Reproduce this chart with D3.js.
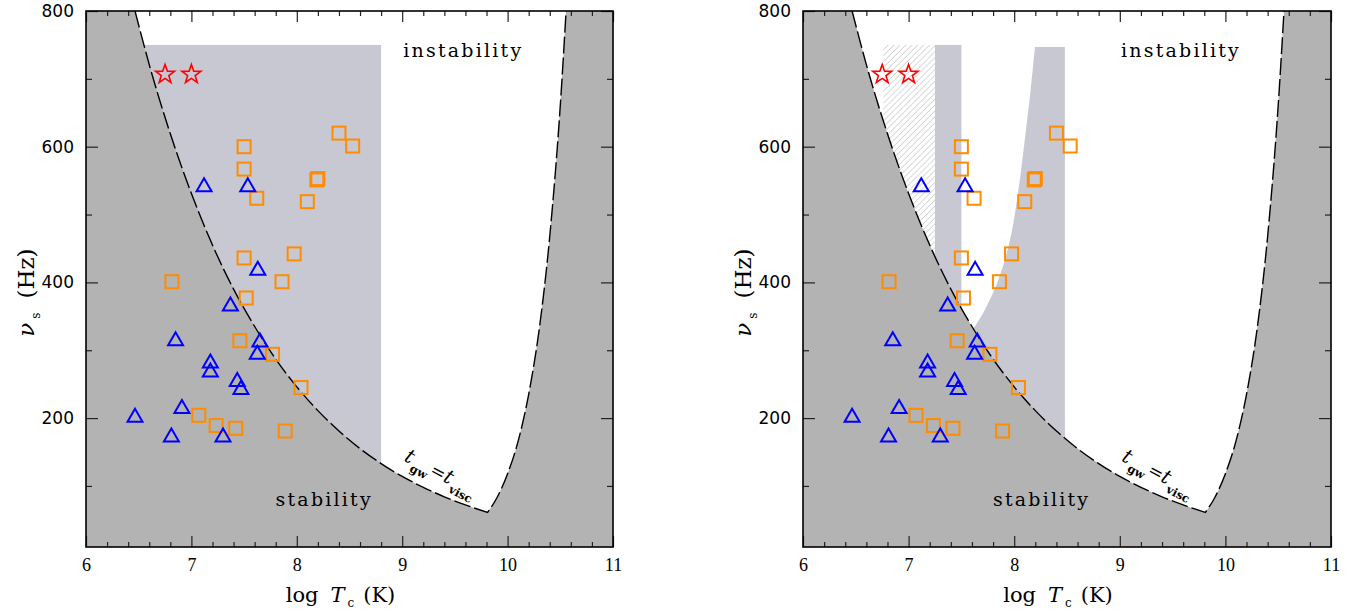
<!DOCTYPE html>
<html>
<head>
<meta charset="utf-8">
<script src="https://cdn.jsdelivr.net/npm/d3@7"></script>
<style>
  body { margin: 0; background: #fff; }
  svg { display: block; }
</style>
</head>
<body>
<svg id="chart" width="1351" height="613"></svg>
<script>
// ---- axis ticks ----
const logTTicks = [6, 7, 8, 9, 10, 11];
const nuTicks = [200, 400, 600, 800];
const logTMinorTicks = [6.2, 6.4, 6.6, 6.8, 7.2, 7.4, 7.6, 7.8, 8.2, 8.4, 8.6, 8.8,
                        9.2, 9.4, 9.6, 9.8, 10.2, 10.4, 10.6, 10.8];
const nuMinorTicks = [100, 300, 500, 700];

// ---- t_gw = t_visc boundary: [log Tc, nu_s (Hz)] ----
// shear-viscosity side (cool)
const coolBranch = [
  [6.465, 800], [6.6, 721], [6.8, 619], [7.0, 531], [7.2, 455], [7.4, 390],
  [7.6, 335], [7.8, 287], [8.0, 246], [8.2, 211], [8.4, 181], [8.6, 155],
  [8.8, 133], [9.0, 114], [9.2, 98], [9.4, 84], [9.6, 72], [9.81, 61]
];
// bulk-viscosity side (hot)
const hotBranch = [
  [9.81, 61], [9.9, 83], [10.0, 118], [10.1, 166], [10.2, 235], [10.3, 331],
  [10.4, 468], [10.5, 661], [10.555, 800]
];

// ---- shaded instability windows ----
const leftWindow = { logTFrom: 6.0, logTTo: 8.8, nuTop: 750 };
const hatchWindow = { logTFrom: 6.76, logTTo: 7.25, nuTop: 750 };
const narrowWindow = { logTFrom: 7.25, logTTo: 7.5, nuTop: 750 };
const wideWindowEdge = [
  [7.61, 331], [7.72, 359], [7.85, 404], [7.96, 462], [8.04, 536],
  [8.10, 610], [8.156, 684], [8.197, 747]
];
const wideWindow = { logTTo: 8.48, nuTop: 747 };

// ---- sources: [log Tc, nu_s] ----
const stars = [[6.75, 708], [7.0, 708]];
const triangles = [
  [6.465, 204], [6.81, 175], [6.91, 217], [6.85, 317], [7.12, 544], [7.18, 284],
  [7.18, 271], [7.30, 175], [7.37, 368], [7.435, 257], [7.47, 245], [7.535, 544],
  [7.63, 421], [7.65, 315], [7.625, 297]
];
const squares = [
  [6.815, 401], [7.07, 204], [7.235, 189], [7.42, 185], [7.46, 314], [7.50, 600],
  [7.50, 567], [7.50, 436], [7.52, 377], [7.62, 524], [7.77, 294], [7.89, 181],
  [7.86, 401], [7.975, 442], [8.04, 245], [8.10, 519], [8.19, 551], [8.20, 553],
  [8.40, 620], [8.53, 601]
];

const GRAY = "#b3b3b3";
const LAVENDER = "#c8c8d2";
const SERIF = "'DejaVu Serif', serif";

const svg = d3.select("#chart");
const defs = svg.append("defs");
defs.append("pattern")
  .attr("id", "hatch")
  .attr("patternUnits", "userSpaceOnUse")
  .attr("width", 4.2).attr("height", 4.2)
  .attr("patternTransform", "rotate(45)")
  .append("line")
  .attr("x1", 0).attr("y1", 0).attr("x2", 0).attr("y2", 4.2)
  .attr("stroke", "#bcbcbc").attr("stroke-width", 1.1);

const panels = [
  { id: "a", left: 86, right: 613 },
  { id: "b", left: 803, right: 1331 }
];
const TOP = 11, BOTTOM = 547;

panels.forEach(p => {
  const x = d3.scaleLinear().domain([6, 11]).range([p.left, p.right]);
  const y = d3.scaleLinear().domain([10, 800]).range([BOTTOM, TOP]);
  const g = svg.append("g");

  defs.append("clipPath").attr("id", "clip-" + p.id)
    .append("rect")
    .attr("x", p.left).attr("y", TOP)
    .attr("width", p.right - p.left).attr("height", BOTTOM - TOP);

  const plot = g.append("g").attr("clip-path", `url(#clip-${p.id})`);

  // instability windows
  if (p.id === "a") {
    plot.append("rect")
      .attr("x", x(leftWindow.logTFrom)).attr("y", y(leftWindow.nuTop))
      .attr("width", x(leftWindow.logTTo) - x(leftWindow.logTFrom))
      .attr("height", y(10) - y(leftWindow.nuTop))
      .attr("fill", LAVENDER);
  } else {
    plot.append("rect")
      .attr("x", x(hatchWindow.logTFrom)).attr("y", y(hatchWindow.nuTop))
      .attr("width", x(hatchWindow.logTTo) - x(hatchWindow.logTFrom))
      .attr("height", y(10) - y(hatchWindow.nuTop))
      .attr("fill", "url(#hatch)");
    plot.append("rect")
      .attr("x", x(narrowWindow.logTFrom)).attr("y", y(narrowWindow.nuTop))
      .attr("width", x(narrowWindow.logTTo) - x(narrowWindow.logTFrom))
      .attr("height", y(10) - y(narrowWindow.nuTop))
      .attr("fill", LAVENDER);
    const edge = d3.line().x(d => x(d[0])).y(d => y(d[1])).curve(d3.curveCatmullRom)(wideWindowEdge);
    const first = wideWindowEdge[0];
    const dWide = edge +
      `L${x(wideWindow.logTTo)},${y(wideWindow.nuTop)}` +
      `L${x(wideWindow.logTTo)},${y(10)}` +
      `L${x(first[0])},${y(10)}Z`;
    plot.append("path").attr("d", dWide).attr("fill", LAVENDER);
  }

  // stable region below / right of the boundary
  const line = d3.line().x(d => x(d[0])).y(d => y(d[1])).curve(d3.curveMonotoneX);
  const pCool = line(coolBranch);
  const pHot = line(hotBranch);
  const dStable = `M${x(6)},${y(10)}L${x(6)},${y(800)}` +
    pCool.replace(/^M/, "L") + pHot.replace(/^M/, "L") +
    `L${x(11)},${y(800)}L${x(11)},${y(10)}Z`;
  plot.append("path").attr("d", dStable).attr("fill", GRAY);

  plot.append("path")
    .attr("d", pCool + pHot.replace(/^M/, "L"))
    .attr("fill", "none")
    .attr("stroke", "#000")
    .attr("stroke-width", 1.4)
    .attr("stroke-dasharray", "17,4");

  // markers
  const tri = "M0,-6.5L7.5,6.5L-7.5,6.5Z";
  const starPath = (() => {
    const pts = [];
    for (let i = 0; i < 10; i++) {
      const r = i % 2 === 0 ? 10 : 4;
      const a = -Math.PI / 2 + i * Math.PI / 5;
      pts.push([r * Math.cos(a), r * Math.sin(a)]);
    }
    return "M" + pts.map(q => q.join(",")).join("L") + "Z";
  })();

  plot.selectAll(".sq").data(squares).join("rect")
    .attr("x", d => x(d[0]) - 6.5).attr("y", d => y(d[1]) - 6.5)
    .attr("width", 13).attr("height", 13)
    .attr("fill", "none").attr("stroke", "#ff8c00").attr("stroke-width", 2);

  plot.selectAll(".tri").data(triangles).join("path")
    .attr("d", tri)
    .attr("transform", d => `translate(${x(d[0])},${y(d[1])})`)
    .attr("fill", "none").attr("stroke", "#0000ff").attr("stroke-width", 2)
    .attr("stroke-linejoin", "miter");

  plot.selectAll(".star").data(stars).join("path")
    .attr("d", starPath)
    .attr("transform", d => `translate(${x(d[0])},${y(d[1]) + 1})`)
    .attr("fill", "none").attr("stroke", "#ff0000").attr("stroke-width", 1.6);

  // region labels
  g.append("text")
    .attr("x", x(9.58)).attr("y", y(732))
    .attr("text-anchor", "middle")
    .attr("font-family", SERIF).attr("font-size", 19)
    .attr("letter-spacing", 2.2)
    .text("instability");
  g.append("text")
    .attr("x", x(8.26)).attr("y", y(70))
    .attr("text-anchor", "middle")
    .attr("font-family", SERIF).attr("font-size", 19)
    .attr("letter-spacing", 2.2)
    .text("stability");

  const lbl = g.append("text")
    .attr("transform", `translate(${x(9.01)},${y(138)}) rotate(28)`)
    .attr("font-family", SERIF).attr("font-size", 20);
  lbl.append("tspan").attr("font-style", "italic").text("t");
  lbl.append("tspan").attr("font-size", 11.5).attr("font-weight", "bold").attr("dx", 2).attr("dy", 7).text("gw");
  lbl.append("tspan").attr("font-size", 18).attr("dx", 1).attr("dy", -7).text("=");
  lbl.append("tspan").attr("font-style", "italic").text("t");
  lbl.append("tspan").attr("font-size", 11.5).attr("font-weight", "bold").attr("dx", 2).attr("dy", 7).text("visc");

  // axes: inward ticks on all four sides
  const styleAxis = sel => {
    sel.select(".domain").remove();
    sel.selectAll(".tick line").attr("stroke", "#222").attr("stroke-width", 1.2);
  };
  g.append("g").attr("transform", `translate(0,${BOTTOM})`)
    .call(d3.axisBottom(x).tickValues(logTTicks).tickSize(-11).tickPadding(11).tickFormat(d3.format("d")))
    .call(styleAxis)
    .call(s => s.selectAll("text").attr("font-family", "'Liberation Serif', serif").attr("font-size", 18).attr("fill", "#000"));
  g.append("g").attr("transform", `translate(0,${BOTTOM})`)
    .call(d3.axisBottom(x).tickValues(logTMinorTicks).tickSize(-5).tickFormat(""))
    .call(styleAxis);
  g.append("g").attr("transform", `translate(0,${TOP})`)
    .call(d3.axisTop(x).tickValues(logTTicks).tickSize(-11).tickFormat(""))
    .call(styleAxis);
  g.append("g").attr("transform", `translate(0,${TOP})`)
    .call(d3.axisTop(x).tickValues(logTMinorTicks).tickSize(-5).tickFormat(""))
    .call(styleAxis);

  g.append("g").attr("transform", `translate(${p.left},0)`)
    .call(d3.axisLeft(y).tickValues(nuTicks).tickSize(-12).tickPadding(12).tickFormat(d3.format("d")))
    .call(styleAxis)
    .call(s => s.selectAll("text").attr("font-family", "'DejaVu Sans', sans-serif").attr("font-size", 17).attr("fill", "#000"));
  g.append("g").attr("transform", `translate(${p.left},0)`)
    .call(d3.axisLeft(y).tickValues(nuMinorTicks).tickSize(-6).tickFormat(""))
    .call(styleAxis);
  g.append("g").attr("transform", `translate(${p.right},0)`)
    .call(d3.axisRight(y).tickValues(nuTicks).tickSize(-12).tickFormat(""))
    .call(styleAxis);
  g.append("g").attr("transform", `translate(${p.right},0)`)
    .call(d3.axisRight(y).tickValues(nuMinorTicks).tickSize(-6).tickFormat(""))
    .call(styleAxis);

  // frame
  g.append("rect")
    .attr("x", p.left).attr("y", TOP)
    .attr("width", p.right - p.left).attr("height", BOTTOM - TOP)
    .attr("fill", "none").attr("stroke", "#000").attr("stroke-width", 1.6);

  // axis titles
  const xt = g.append("text")
    .attr("x", (p.left + p.right) / 2 - 9).attr("y", 602)
    .attr("text-anchor", "middle")
    .attr("font-family", SERIF).attr("font-size", 21);
  xt.append("tspan").text("log");
  xt.append("tspan").attr("dx", 12).attr("font-style", "italic").text("T");
  xt.append("tspan").attr("font-size", 12).attr("dx", 3).attr("dy", 5).text("c");
  xt.append("tspan").attr("dx", 9).attr("dy", -5).text("(K)");

  const yt = g.append("text")
    .attr("transform", `translate(${p.left - 52},${y(385)}) rotate(-90)`)
    .attr("text-anchor", "middle")
    .attr("font-family", SERIF).attr("font-size", 23);
  yt.append("tspan").attr("font-style", "italic").text("ν");
  yt.append("tspan").attr("font-size", 12).attr("dx", 4).attr("dy", 6).text("s");
  yt.append("tspan").attr("dx", 14).attr("dy", -6).text("(Hz)");
});
</script>
</body>
</html>
